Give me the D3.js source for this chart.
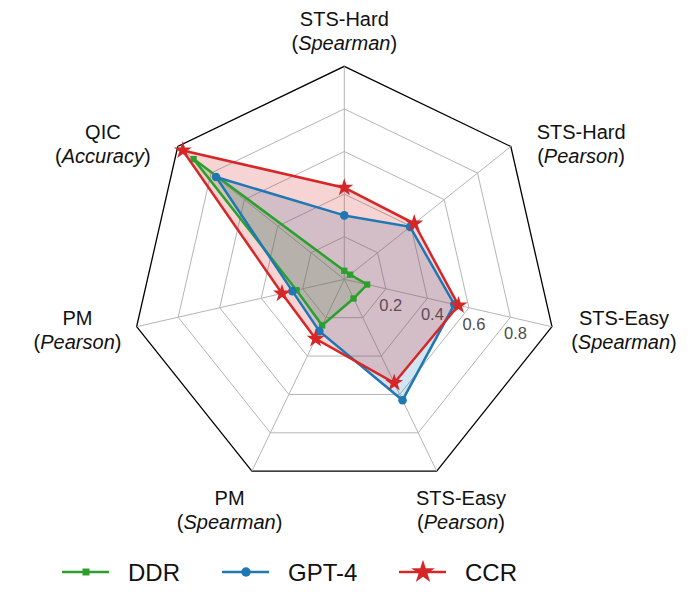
<!DOCTYPE html>
<html>
<head>
<meta charset="utf-8">
<script src="https://cdn.jsdelivr.net/npm/d3@7"></script>
<style>
  html, body { margin: 0; padding: 0; background: #fff; }
  svg { display: block; font-family: "Liberation Sans", Arial, Helvetica, sans-serif; }
</style>
</head>
<body>
<svg id="chart" width="700" height="609"></svg>
<script>
// ---- data ----
const axisNames   = ["STS-Hard", "STS-Hard", "STS-Easy", "STS-Easy", "PM", "PM", "QIC"];
const axisMetrics = ["Spearman", "Pearson", "Spearman", "Pearson", "Spearman", "Pearson", "Accuracy"];
const tickValues  = [0.2, 0.4, 0.6, 0.8];
const tickLabels  = ["0.2", "0.4", "0.6", "0.8"];
const seriesNames = ["DDR", "GPT-4", "CCR"];
const ddrValues   = [0.04, 0.035, 0.11, 0.10, 0.24, 0.23, 0.905];
const gpt4Values  = [0.30, 0.395, 0.53, 0.63, 0.27, 0.25, 0.77];
const ccrValues   = [0.43, 0.42, 0.55, 0.54, 0.31, 0.30, 0.97];

// ---- layout ----
const cx = 344.3, cy = 279.3, R = 213;
const colors = { "DDR": "#2ca02c", "GPT-4": "#1f77b4", "CCR": "#d62728" };
const series = [
  { name: "DDR", values: ddrValues, marker: "square" },
  { name: "GPT-4", values: gpt4Values, marker: "circle" },
  { name: "CCR", values: ccrValues, marker: "star" }
];

const svg = d3.select("#chart");
const n = axisNames.length;
const r = d3.scaleLinear().domain([0, 1]).range([0, R]);
const angle = d3.scaleLinear().domain([0, n]).range([0, 2 * Math.PI]);
const pt = (i, v) => [cx + r(v) * Math.sin(angle(i)), cy - r(v) * Math.cos(angle(i))];

const g = svg.append("g");

// grid rings
const ringLevels = tickValues.concat([1.0]);
ringLevels.forEach(lv => {
  const pts = d3.range(n).map(i => pt(i, lv));
  g.append("path")
    .attr("d", d3.line()(pts) + "Z")
    .attr("fill", "none")
    .attr("stroke", lv === 1.0 ? "#000" : "#b5b5b5")
    .attr("stroke-width", lv === 1.0 ? 1.3 : 1);
});
// spokes
d3.range(n).forEach(i => {
  const [x1, y1] = pt(i, 0), [x2, y2] = pt(i, 1);
  g.append("line").attr("x1", x1).attr("y1", y1).attr("x2", x2).attr("y2", y2)
    .attr("stroke", "#b5b5b5").attr("stroke-width", 1);
});

// radial tick labels along axis 2
tickValues.forEach((v, k) => {
  const [x, y] = pt(2, v);
  g.append("text")
    .attr("x", x + 5).attr("y", y + 16)
    .attr("text-anchor", "middle").attr("dominant-baseline", "central")
    .attr("font-size", 16.5).attr("fill", "#4d4d4d")
    .text(tickLabels[k]);
});

// fills
series.forEach(s => {
  const pts = s.values.map((v, i) => pt(i, v));
  g.append("path").attr("d", d3.line()(pts) + "Z")
    .attr("fill", colors[s.name]).attr("fill-opacity", 0.2).attr("stroke", "none");
});

function drawMarker(sel, type, x, y, color, scale) {
  scale = scale || 1;
  if (type === "square") {
    sel.append("path").attr("d", d3.symbol(d3.symbolSquare, 40 * scale * scale)())
      .attr("transform", `translate(${x},${y})`).attr("fill", color);
  } else if (type === "circle") {
    sel.append("circle").attr("cx", x).attr("cy", y).attr("r", 4.3 * scale).attr("fill", color);
  } else {
    sel.append("path").attr("d", d3.symbol(d3.symbolStar, 100 * scale * scale)())
      .attr("transform", `translate(${x},${y})`).attr("fill", color);
  }
}

// lines & markers
series.forEach(s => {
  const pts = s.values.map((v, i) => pt(i, v));
  g.append("path").attr("d", d3.line()(pts) + "Z")
    .attr("fill", "none").attr("stroke", colors[s.name]).attr("stroke-width", 2.5)
    .attr("stroke-linejoin", "miter");
  pts.forEach(([x, y]) => drawMarker(g, s.marker, x, y, colors[s.name]));
});

// axis labels
const labelR = 246;
const nudges = [[0, -2], [0, 17.6], [-13, -4.5], [10, 9], [-8, 9], [17, -4.5], [-1.3, 17.6]];
d3.range(n).forEach(i => {
  const a = angle(i);
  const s = Math.sin(a);
  let ax = cx + labelR * s + nudges[i][0];
  let ay = cy - labelR * Math.cos(a) + nudges[i][1];
  const t1 = g.append("text").attr("text-anchor", "middle").attr("dominant-baseline", "central")
    .attr("font-size", 20).attr("fill", "#111").text(axisNames[i]);
  const t2 = g.append("text").attr("text-anchor", "middle").attr("dominant-baseline", "central")
    .attr("font-size", 20).attr("fill", "#111");
  t2.append("tspan").text("(");
  t2.append("tspan").attr("font-style", "italic").text(axisMetrics[i]);
  t2.append("tspan").text(")");
  const w = Math.max(t1.node().getComputedTextLength(), t2.node().getComputedTextLength());
  let xc = ax;
  if (s > 0.5) xc = ax + w / 2;
  else if (s < -0.5) xc = ax - w / 2;
  t1.attr("x", xc).attr("y", ay - 12);
  t2.attr("x", xc).attr("y", ay + 12);
});

// legend
const legendY = 572;
const legendX = [62, 222, 399];
series.forEach((s, k) => {
  const x0 = legendX[k];
  svg.append("line").attr("x1", x0).attr("x2", x0 + 47).attr("y1", legendY).attr("y2", legendY)
    .attr("stroke", colors[s.name]).attr("stroke-width", 2.5);
  drawMarker(svg, s.marker, x0 + 24, legendY, colors[s.name], s.marker === "star" ? 1.3 : 1.1);
  svg.append("text").attr("x", x0 + 66).attr("y", legendY).attr("dominant-baseline", "central")
    .attr("font-size", 24).attr("fill", "#111").text(s.name);
});
</script>
</body>
</html>
